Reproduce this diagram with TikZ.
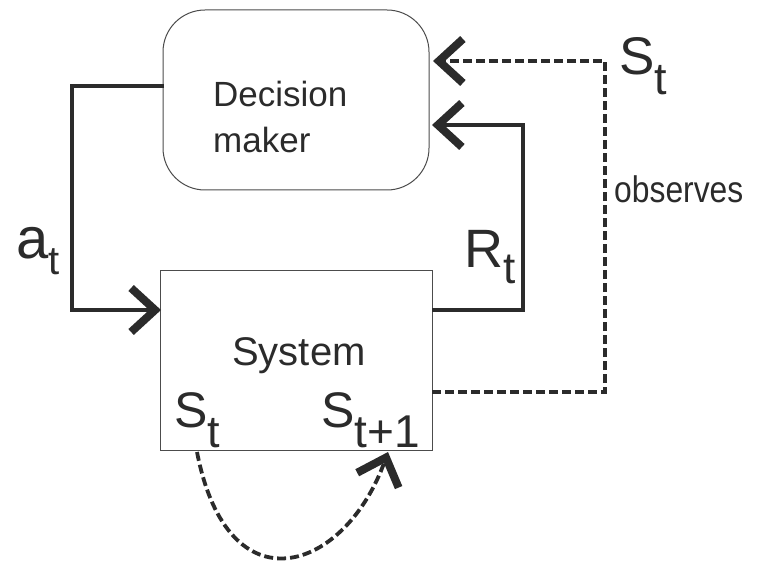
\documentclass[tikz,border=0pt]{standalone}
\usepackage{fontspec}
\setmainfont{Liberation Sans}
\usetikzlibrary{arrows.meta}
\definecolor{ink}{HTML}{2B2B2B}
\tikzset{
  chev/.tip={Straight Barb[length=24pt,width=44pt,line width=8pt]},
  flow/.style={draw=ink,line width=4pt,-chev,line join=miter},
  obs/.style={draw=ink,line width=3.8pt,dash pattern=on 9pt off 4pt,-chev},
  boxline/.style={draw=black!70,line width=1pt},
  txt/.style={text=ink,inner sep=0pt,anchor=base west},
}
% main letter, its size, subscript size, drop, subscript
\newcommand{\lbl}[5]{{\fontsize{#2}{#2}\selectfont #1}\raisebox{-#4}{\fontsize{#3}{#3}\selectfont #5}}
\begin{document}
\begin{tikzpicture}[x=1pt,y=-1pt]
\useasboundingbox (0,0) rectangle (759,561);
% decision maker and system boxes
\draw[boxline,rounded corners=42pt] (163,10) rectangle (429,190);
\node[txt,font=\fontsize{35}{35}\selectfont] (dm1) at (213,107) {Decision};
\node[txt,font=\fontsize{35}{35}\selectfont] (dm2) at (213,153) {maker};
\draw[boxline] (160,270) rectangle (432,450);
\node[txt,font=\fontsize{40}{40}\selectfont] (sys) at (232,365) {System};
\node[txt] (st) at (174,427) {\lbl{S}{50}{45}{20pt}{t}};
\node[txt] (st1) at (321,427) {\lbl{S}{50}{46}{20pt}{t+1}};
% anchor points on the box edges
\coordinate (dmL) at (164,86);
\coordinate (sysL) at (161,310);
\coordinate (sysR) at (432,310);
\coordinate (dmR1) at (432,125);
\coordinate (dmR2) at (433,61);
\coordinate (sysR2) at (432,392);
\coordinate (cs) at (197,452);
\coordinate (ce) at (388,452);
% action
\draw[flow] (dmL) -- (72,86) -- (72,310) -- (sysL);
\node[txt] (at) at (16,258) {\lbl{a}{58}{40}{17pt}{t}};
% reward
\draw[flow] (sysR) -- (523,310) -- (523,125) -- (dmR1);
\node[txt] (rt) at (464,267) {\lbl{R}{54}{44}{16pt}{t}};
% observed state
\draw[obs] (sysR2) -- (605,392) -- (605,61) -- (dmR2);
\node[txt] (so) at (619,75) {\lbl{S}{53}{45}{20pt}{t}};
\node[txt] (ob) at (614,203) {\scalebox{0.86}[1]{\fontsize{37}{37}\selectfont observes}};
% state transition
\draw[obs] (cs) .. controls (228,612) and (345,572) .. (ce);
\end{tikzpicture}
\end{document}
